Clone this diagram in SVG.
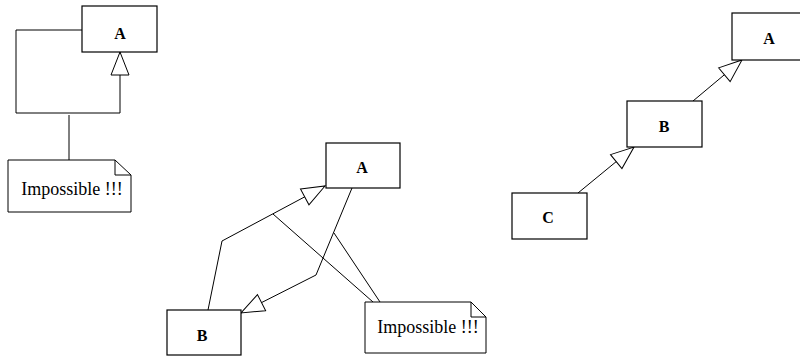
<svg xmlns="http://www.w3.org/2000/svg" width="800" height="356" viewBox="0 0 800 356">
<style>
.box{fill:#fff;stroke:#000;stroke-width:1.2}
.lbl{font-family:'Liberation Serif','Times New Roman','DejaVu Serif',serif;font-weight:bold;font-size:16px;text-anchor:middle;fill:#000}
.note{fill:#fff;stroke:#000;stroke-width:1}
.ntxt{font-family:'Liberation Serif','Times New Roman','DejaVu Serif',serif;font-size:18px;text-anchor:middle;fill:#000}
.edge{fill:none;stroke:#000;stroke-width:1}
.gen{marker-end:url(#tri)}
</style>
<defs>
<marker id="tri" viewBox="0 0 26 20" markerWidth="26" markerHeight="20" refX="24" refY="10" orient="auto" markerUnits="userSpaceOnUse" overflow="visible">
<path d="M1,1 L24,10 L1,19 Z" fill="#fff" stroke="#000" stroke-width="1"/>
</marker>
</defs>
<rect width="800" height="356" fill="#fff"/>
<g id="connectors">
<path class="edge gen" d="M82,30 H16 V113 H120 V52"/>
<path class="edge" d="M69,115 V160"/>
<path class="edge gen" d="M208,310 L222,241 L325,186"/>
<path class="edge gen" d="M352,188 L316,275 L241,313"/>
<path class="edge" d="M273,214 L373,302"/>
<path class="edge" d="M334,233 L380,302"/>
<path class="edge gen" d="M578,193 L634,147"/>
<path class="edge gen" d="M693,101 L742,60"/>
</g>
<g id="node-A1"><rect class="box" x="82" y="6" width="75" height="46"/><text class="lbl" x="120" y="39">A</text></g>
<g id="note-1"><path class="note" d="M8,160 H115 L131,175 V212 H8 Z M115,160 V175 H131"/><text class="ntxt" x="72" y="195">Impossible !!!</text></g>
<g id="node-A2"><rect class="box" x="326" y="143" width="74" height="45"/><text class="lbl" x="362" y="173">A</text></g>
<g id="node-B2"><rect class="box" x="167" y="310" width="74" height="45"/><text class="lbl" x="202" y="340.5">B</text></g>
<g id="note-2"><path class="note" d="M365,302 H471 L486,317 V353 H365 Z M471,302 V317 H486"/><text class="ntxt" x="428" y="333">Impossible !!!</text></g>
<g id="node-A3"><rect class="box" x="732" y="13" width="75" height="47"/><text class="lbl" x="769" y="44">A</text></g>
<g id="node-B3"><rect class="box" x="627" y="101" width="75" height="46"/><text class="lbl" x="664" y="131.5">B</text></g>
<g id="node-C3"><rect class="box" x="512" y="193" width="75" height="46"/><text class="lbl" x="548" y="223">C</text></g>
</svg>
